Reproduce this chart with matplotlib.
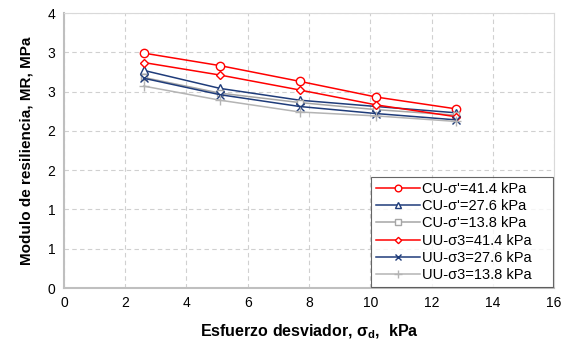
import math
import matplotlib
matplotlib.use("Agg")
import matplotlib.pyplot as plt
from matplotlib.ticker import FuncFormatter, MultipleLocator

plt.rcParams['font.family'] = ['Liberation Sans', 'DejaVu Sans']
plt.rcParams['mathtext.fontset'] = 'custom'
plt.rcParams['mathtext.rm'] = 'Liberation Sans'
plt.rcParams['mathtext.bf'] = 'Liberation Sans:bold'

x = [2.6, 5.1, 7.7, 10.2, 12.8]
cu_414 = [2.99, 2.83, 2.63, 2.43, 2.28]
cu_276 = [2.77, 2.54, 2.39, 2.31, 2.23]
cu_138 = [2.68, 2.48, 2.36, 2.27, 2.20]
uu_414 = [2.87, 2.71, 2.52, 2.33, 2.18]
uu_276 = [2.67, 2.46, 2.31, 2.22, 2.14]
uu_138 = [2.57, 2.39, 2.24, 2.19, 2.12]

labels = ["CU-σ'=41.4 kPa", "CU-σ'=27.6 kPa", "CU-σ'=13.8 kPa",
          "UU-σ3=41.4 kPa", "UU-σ3=27.6 kPa", "UU-σ3=13.8 kPa"]

red = '#FF0000'
navy = '#1F3C7A'
gray = '#A6A6A6'
lgray = '#B4B4B4'

fig = plt.figure(figsize=(5.66, 3.47), dpi=100)
ax = fig.add_axes([0.113, 0.170, 0.866, 0.7925])

ax.plot(x, cu_414, color=red, lw=1.1, marker='o', ms=6, mfc='white', mec=red, mew=1.0, label=labels[0])
ax.plot(x, cu_276, color=navy, lw=1.1, marker='^', ms=6, mfc='white', mec=navy, mew=1.0, label=labels[1])
ax.plot(x, cu_138, color=gray, lw=1.1, marker='s', ms=5, mfc='white', mec=gray, mew=1.0, label=labels[2])
ax.plot(x, uu_414, color=red, lw=1.1, marker='D', ms=4, mfc='white', mec=red, mew=1.0, label=labels[3])
ax.plot(x, uu_276, color=navy, lw=1.1, marker='x', ms=6, mec=navy, mew=1.0, label=labels[4])
ax.plot(x, uu_138, color=lgray, lw=1.1, marker='+', ms=7, mec=lgray, mew=1.0, label=labels[5])

ax.set_xlim(0, 16)
ax.set_ylim(0, 3.5)
ax.xaxis.set_major_locator(MultipleLocator(2))
ax.yaxis.set_major_locator(MultipleLocator(0.5))
ax.yaxis.set_major_formatter(FuncFormatter(lambda v, p: str(int(math.floor(v + 0.5 + 1e-9)))))
ax.grid(True, color='#D0D0D0', ls=(0, (4, 3)), lw=0.8)
ax.tick_params(length=0, labelsize=10, pad=6)

for s in ['top', 'right']:
    ax.spines[s].set_color('#D9D9D9')
for s in ['left', 'bottom']:
    ax.spines[s].set_color('#BFBFBF')
    ax.spines[s].set_linewidth(1.5)

ax.set_xlabel("Esfuerzo desviador, σ$_\\mathbf{d}$,  kPa", fontsize=11.5, fontweight='bold', labelpad=9)
ax.set_ylabel("Modulo de resiliencia, MR, MPa", fontsize=11, fontweight='bold', labelpad=10)

leg = ax.legend(loc='lower left', bbox_to_anchor=(0.626, 0.003, 0.372, 0.39), mode='expand',
                fontsize=10.5, frameon=True, fancybox=False,
                edgecolor='#404040', borderpad=0.35, labelspacing=0.22, handlelength=3.0,
                handletextpad=0.15, borderaxespad=0.0, markerscale=0.8)
leg.get_frame().set_linewidth(0.8)

fig.savefig("out.png", dpi=100)
